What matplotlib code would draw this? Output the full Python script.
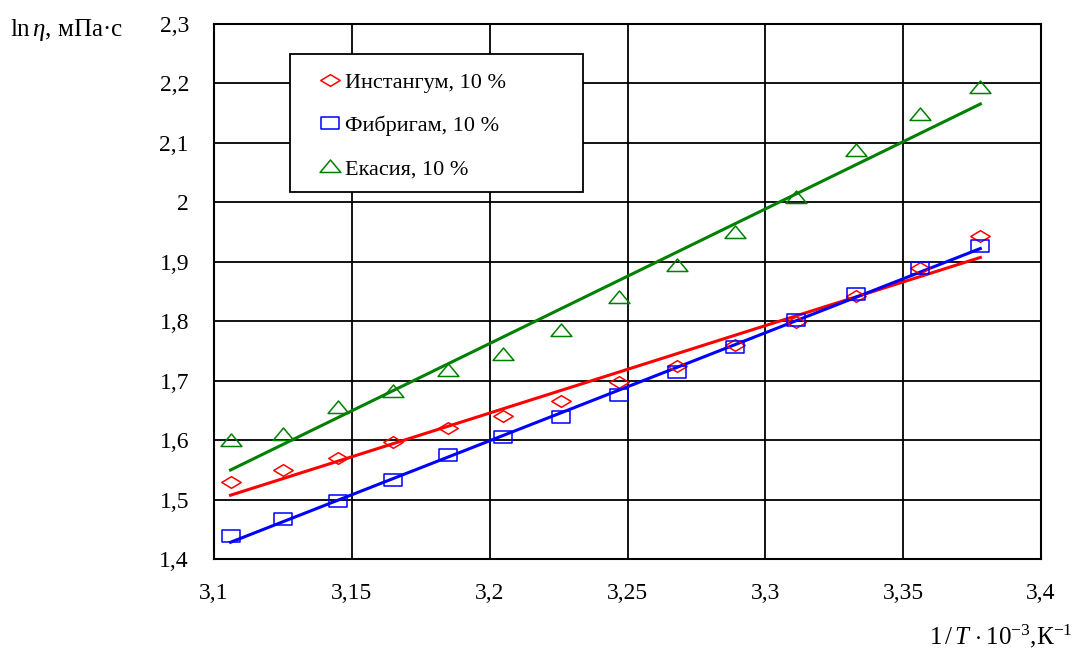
import numpy as np
import matplotlib
matplotlib.use('Agg')
import matplotlib.pyplot as plt
from matplotlib.ticker import FuncFormatter, MultipleLocator
from matplotlib.path import Path
from matplotlib.patches import Rectangle

# data
inv_t = [3.106, 3.125, 3.145, 3.165, 3.185, 3.205, 3.226, 3.247,
         3.268, 3.289, 3.311, 3.333, 3.356, 3.378]
instangum = [1.530, 1.550, 1.570, 1.597, 1.620, 1.640, 1.666, 1.698,
             1.725, 1.760, 1.799, 1.842, 1.890, 1.943]
fibrigam = [1.438, 1.467, 1.497, 1.533, 1.575, 1.605, 1.639, 1.676,
            1.714, 1.757, 1.802, 1.846, 1.889, 1.926]
ekasia = [1.598, 1.608, 1.654, 1.681, 1.716, 1.743, 1.783, 1.839,
          1.893, 1.948, 2.007, 2.086, 2.147, 2.192]
labels = ['Инстангум, 10 %', 'Фибригам, 10 %', 'Екасия, 10 %']

plt.rcParams['font.family'] = ['Liberation Serif', 'DejaVu Serif']
plt.rcParams['mathtext.fontset'] = 'custom'
plt.rcParams['mathtext.rm'] = 'Liberation Serif'
plt.rcParams['mathtext.it'] = 'Liberation Serif:italic'


def flat_marker(verts):
    verts = np.asarray(verts, dtype=float)
    codes = [Path.MOVETO] + [Path.LINETO] * (len(verts) - 2) + [Path.CLOSEPOLY]
    return Path(verts, codes)


# markers in the source are a bit squashed vertically
m_diamond = flat_marker([(-1, 0), (0, 0.6), (1, 0), (0, -0.6), (-1, 0)])
m_square = flat_marker([(-1, -0.66), (1, -0.66), (1, 0.66), (-1, 0.66), (-1, -0.66)])
m_tri = flat_marker([(-1, -0.48), (1, -0.48), (0, 0.72), (-1, -0.48)])


def comma(v, pos):
    s = ('%.2f' % v).rstrip('0').rstrip('.')
    return s.replace('.', ',')


W, H = 1077, 649
fig = plt.figure(figsize=(W / 100, H / 100), dpi=100)
ax = fig.add_axes([214 / W, 1 - 559 / H, 827 / W, 535 / H])

x = np.array(inv_t)
series = [(instangum, 'red', m_diamond, 14), (fibrigam, 'blue', m_square, 13.5),
          (ekasia, 'green', m_tri, 15)]
handles = []
for (ys, col, mk, ms), lab in zip(series, labels):
    # linear trend line
    k, b = np.polyfit(x, ys, 1)
    ax.plot([x[0], x[-1]], [k * x[0] + b, k * x[-1] + b], color=col, lw=2.2, zorder=3)
    h, = ax.plot(x, ys, linestyle='none', marker=mk, markersize=ms, markerfacecolor='none',
                 markeredgecolor=col, markeredgewidth=1.1, zorder=4, label=lab)
    handles.append(h)

ax.set_xlim(3.1, 3.4)
ax.set_ylim(1.4, 2.3)
ax.xaxis.set_major_locator(MultipleLocator(0.05))
ax.yaxis.set_major_locator(MultipleLocator(0.1))
ax.xaxis.set_major_formatter(FuncFormatter(comma))
ax.yaxis.set_major_formatter(FuncFormatter(comma))
ax.grid(True, color='black', lw=1.3)
ax.tick_params(length=0, labelsize=17)
ax.tick_params(axis='x', pad=17)
ax.tick_params(axis='y', pad=18)
for sp in ax.spines.values():
    sp.set_linewidth(1.5)

# legend frame drawn separately so it has the same size as in the source
ax.add_patch(Rectangle((0.092, 0.686), 0.354, 0.258, transform=ax.transAxes,
                       facecolor='white', edgecolor='black', lw=1.3, zorder=5))
leg = ax.legend(handles=handles, loc='upper left', bbox_to_anchor=(0.107, 0.944),
                fontsize=16, frameon=False,
                handlelength=0.8, handletextpad=0.3, labelspacing=1.03,
                borderpad=0.82, borderaxespad=0)
leg.set_zorder(6)

fig.text(10 / W, 1 - 30 / H, r'$\mathrm{ln}\,\mathit{\eta}$, мПа·с', fontsize=18,
         ha='left', va='center')
fig.text(1073 / W, 1 - 636 / H, r'$1\,/\,\mathit{T}\,\cdot10^{-3}$,К$^{\mathrm{-1}}$',
         fontsize=18, ha='right', va='center')

fig.savefig('out.png', dpi=100)
